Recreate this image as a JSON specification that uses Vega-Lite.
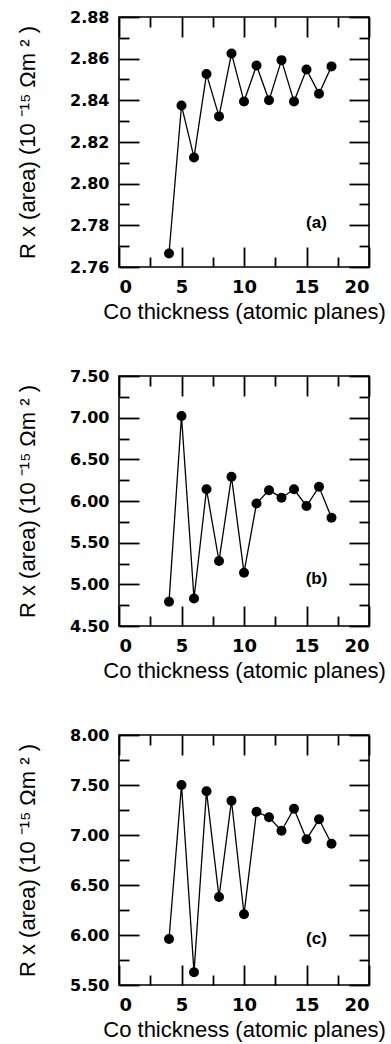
{
  "$schema": "https://vega.github.io/schema/vega-lite/v6.json",
  "background": "white",
  "padding": {"left": 15, "top": 8, "right": 4, "bottom": 2},
  "spacing": 109,
  "bounds": "flush",
  "config": {
    "view": {"stroke": "black", "strokeWidth": 1.6},
    "axis": {
      "domain": false, "grid": false,
      "labelFont": "DejaVu Sans", "labelFontWeight": "bold", "labelFontSize": 16, "labelColor": "black",
      "tickColor": "black", "tickWidth": 1.8,
      "titleFont": "Liberation Sans", "titleFontWeight": "normal", "titleFontSize": 22, "titleColor": "black"
    },
    "axisBottom": {"labelFontSize": 18}
  },
  "vconcat": [
    {
      "width": 250, "height": 250,
      "data": {"values": [
        {"x": 4, "r": 2.7665}, {"x": 5, "r": 2.8375}, {"x": 6, "r": 2.8126}, {"x": 7, "r": 2.8526},
        {"x": 8, "r": 2.8323}, {"x": 9, "r": 2.8625}, {"x": 10, "r": 2.8394}, {"x": 11, "r": 2.8567},
        {"x": 12, "r": 2.8400}, {"x": 13, "r": 2.8593}, {"x": 14, "r": 2.8394}, {"x": 15, "r": 2.8548},
        {"x": 16, "r": 2.8432}, {"x": 17, "r": 2.8563}
      ]},
      "resolve": {"axis": {"x": "independent", "y": "independent"}},
      "layer": [
        {
          "mark": {"type": "line", "color": "black", "strokeWidth": 1.3},
          "encoding": {
            "x": {"field": "x", "type": "quantitative", "scale": {"domain": [0, 20], "nice": false},
              "axis": {"orient": "bottom", "title": "Co thickness (atomic planes)", "values": [0, 2.5, 5, 7.5, 10, 12.5, 15, 17.5, 20],
                "labelExpr": "datum.value % 5 === 0 ? datum.label : ''", "tickSize": -20,
                "tickDash": {"condition": {"test": "datum.value % 5 === 0", "value": [20, 0]}, "value": [10, 40]},
                "labelPadding": 31, "titlePadding": 5}},
            "y": {"field": "r", "type": "quantitative", "scale": {"domain": [2.76, 2.88], "nice": false, "zero": false},
              "axis": {"orient": "left", "title": "R x (area) (10 ⁻¹⁵ Ωm ² )", "format": ".2f",
                "values": [2.76, 2.77, 2.78, 2.79, 2.80, 2.81, 2.82, 2.83, 2.84, 2.85, 2.86, 2.87, 2.88],
                "labelExpr": "round(datum.value * 100) % 2 === 0 ? datum.label : ''", "tickSize": -20,
                "tickDash": {"condition": {"test": "round(datum.value * 100) % 2 === 0", "value": [20, 0]}, "value": [10, 40]},
                "labelPadding": 30, "titlePadding": 30}}
          }
        },
        {
          "mark": {"type": "point", "filled": true, "color": "black", "size": 100, "opacity": 1},
          "encoding": {
            "x": {"field": "x", "type": "quantitative",
              "axis": {"orient": "top", "title": null, "labels": false, "values": [0, 2.5, 5, 7.5, 10, 12.5, 15, 17.5, 20], "tickSize": -20,
                "tickDash": {"condition": {"test": "datum.value % 5 === 0", "value": [20, 0]}, "value": [10, 40]}}},
            "y": {"field": "r", "type": "quantitative",
              "axis": {"orient": "right", "title": null, "labels": false, "tickSize": -20,
                "values": [2.76, 2.77, 2.78, 2.79, 2.80, 2.81, 2.82, 2.83, 2.84, 2.85, 2.86, 2.87, 2.88],
                "tickDash": {"condition": {"test": "round(datum.value * 100) % 2 === 0", "value": [20, 0]}, "value": [10, 40]}}}
          }
        },
        {
          "data": {"values": [{"lx": 15.8, "ly": 2.781, "label": "(a)"}]},
          "mark": {"type": "text", "font": "Liberation Sans", "fontWeight": "bold", "fontSize": 17, "color": "black"},
          "encoding": {
            "x": {"field": "lx", "type": "quantitative", "axis": null},
            "y": {"field": "ly", "type": "quantitative", "axis": null},
            "text": {"field": "label"}
          }
        }
      ]
    },
    {
      "width": 250, "height": 250,
      "data": {"values": [
        {"x": 4, "r": 4.79}, {"x": 5, "r": 7.02}, {"x": 6, "r": 4.83}, {"x": 7, "r": 6.14},
        {"x": 8, "r": 5.28}, {"x": 9, "r": 6.29}, {"x": 10, "r": 5.14}, {"x": 11, "r": 5.97},
        {"x": 12, "r": 6.13}, {"x": 13, "r": 6.04}, {"x": 14, "r": 6.14}, {"x": 15, "r": 5.94},
        {"x": 16, "r": 6.17}, {"x": 17, "r": 5.80}
      ]},
      "resolve": {"axis": {"x": "independent", "y": "independent"}},
      "layer": [
        {
          "mark": {"type": "line", "color": "black", "strokeWidth": 1.3},
          "encoding": {
            "x": {"field": "x", "type": "quantitative", "scale": {"domain": [0, 20], "nice": false},
              "axis": {"orient": "bottom", "title": "Co thickness (atomic planes)", "values": [0, 2.5, 5, 7.5, 10, 12.5, 15, 17.5, 20],
                "labelExpr": "datum.value % 5 === 0 ? datum.label : ''", "tickSize": -20,
                "tickDash": {"condition": {"test": "datum.value % 5 === 0", "value": [20, 0]}, "value": [10, 40]},
                "labelPadding": 31, "titlePadding": 5}},
            "y": {"field": "r", "type": "quantitative", "scale": {"domain": [4.5, 7.5], "nice": false, "zero": false},
              "axis": {"orient": "left", "title": "R x (area) (10 ⁻¹⁵ Ωm ² )", "format": ".2f",
                "values": [4.5, 4.75, 5, 5.25, 5.5, 5.75, 6, 6.25, 6.5, 6.75, 7, 7.25, 7.5],
                "labelExpr": "round(datum.value * 4) % 2 === 0 ? datum.label : ''", "tickSize": -20,
                "tickDash": {"condition": {"test": "round(datum.value * 4) % 2 === 0", "value": [20, 0]}, "value": [10, 40]},
                "labelPadding": 30, "titlePadding": 30}}
          }
        },
        {
          "mark": {"type": "point", "filled": true, "color": "black", "size": 100, "opacity": 1},
          "encoding": {
            "x": {"field": "x", "type": "quantitative",
              "axis": {"orient": "top", "title": null, "labels": false, "values": [0, 2.5, 5, 7.5, 10, 12.5, 15, 17.5, 20], "tickSize": -20,
                "tickDash": {"condition": {"test": "datum.value % 5 === 0", "value": [20, 0]}, "value": [10, 40]}}},
            "y": {"field": "r", "type": "quantitative",
              "axis": {"orient": "right", "title": null, "labels": false, "tickSize": -20,
                "values": [4.5, 4.75, 5, 5.25, 5.5, 5.75, 6, 6.25, 6.5, 6.75, 7, 7.25, 7.5],
                "tickDash": {"condition": {"test": "round(datum.value * 4) % 2 === 0", "value": [20, 0]}, "value": [10, 40]}}}
          }
        },
        {
          "data": {"values": [{"lx": 15.8, "ly": 5.06, "label": "(b)"}]},
          "mark": {"type": "text", "font": "Liberation Sans", "fontWeight": "bold", "fontSize": 17, "color": "black"},
          "encoding": {
            "x": {"field": "lx", "type": "quantitative", "axis": null},
            "y": {"field": "ly", "type": "quantitative", "axis": null},
            "text": {"field": "label"}
          }
        }
      ]
    },
    {
      "width": 250, "height": 250,
      "data": {"values": [
        {"x": 4, "r": 5.96}, {"x": 5, "r": 7.50}, {"x": 6, "r": 5.627}, {"x": 7, "r": 7.437},
        {"x": 8, "r": 6.38}, {"x": 9, "r": 7.343}, {"x": 10, "r": 6.207}, {"x": 11, "r": 7.233},
        {"x": 12, "r": 7.177}, {"x": 13, "r": 7.043}, {"x": 14, "r": 7.263}, {"x": 15, "r": 6.957},
        {"x": 16, "r": 7.157}, {"x": 17, "r": 6.913}
      ]},
      "resolve": {"axis": {"x": "independent", "y": "independent"}},
      "layer": [
        {
          "mark": {"type": "line", "color": "black", "strokeWidth": 1.3},
          "encoding": {
            "x": {"field": "x", "type": "quantitative", "scale": {"domain": [0, 20], "nice": false},
              "axis": {"orient": "bottom", "title": "Co thickness (atomic planes)", "values": [0, 2.5, 5, 7.5, 10, 12.5, 15, 17.5, 20],
                "labelExpr": "datum.value % 5 === 0 ? datum.label : ''", "tickSize": -20,
                "tickDash": {"condition": {"test": "datum.value % 5 === 0", "value": [20, 0]}, "value": [10, 40]},
                "labelPadding": 31, "titlePadding": 5}},
            "y": {"field": "r", "type": "quantitative", "scale": {"domain": [5.5, 8.0], "nice": false, "zero": false},
              "axis": {"orient": "left", "title": "R x (area) (10 ⁻¹⁵ Ωm ² )", "format": ".2f",
                "values": [5.5, 5.75, 6, 6.25, 6.5, 6.75, 7, 7.25, 7.5, 7.75, 8],
                "labelExpr": "round(datum.value * 4) % 2 === 0 ? datum.label : ''", "tickSize": -20,
                "tickDash": {"condition": {"test": "round(datum.value * 4) % 2 === 0", "value": [20, 0]}, "value": [10, 40]},
                "labelPadding": 30, "titlePadding": 30}}
          }
        },
        {
          "mark": {"type": "point", "filled": true, "color": "black", "size": 100, "opacity": 1},
          "encoding": {
            "x": {"field": "x", "type": "quantitative",
              "axis": {"orient": "top", "title": null, "labels": false, "values": [0, 2.5, 5, 7.5, 10, 12.5, 15, 17.5, 20], "tickSize": -20,
                "tickDash": {"condition": {"test": "datum.value % 5 === 0", "value": [20, 0]}, "value": [10, 40]}}},
            "y": {"field": "r", "type": "quantitative",
              "axis": {"orient": "right", "title": null, "labels": false, "tickSize": -20,
                "values": [5.5, 5.75, 6, 6.25, 6.5, 6.75, 7, 7.25, 7.5, 7.75, 8],
                "tickDash": {"condition": {"test": "round(datum.value * 4) % 2 === 0", "value": [20, 0]}, "value": [10, 40]}}}
          }
        },
        {
          "data": {"values": [{"lx": 15.8, "ly": 5.965, "label": "(c)"}]},
          "mark": {"type": "text", "font": "Liberation Sans", "fontWeight": "bold", "fontSize": 17, "color": "black"},
          "encoding": {
            "x": {"field": "lx", "type": "quantitative", "axis": null},
            "y": {"field": "ly", "type": "quantitative", "axis": null},
            "text": {"field": "label"}
          }
        }
      ]
    }
  ]
}
